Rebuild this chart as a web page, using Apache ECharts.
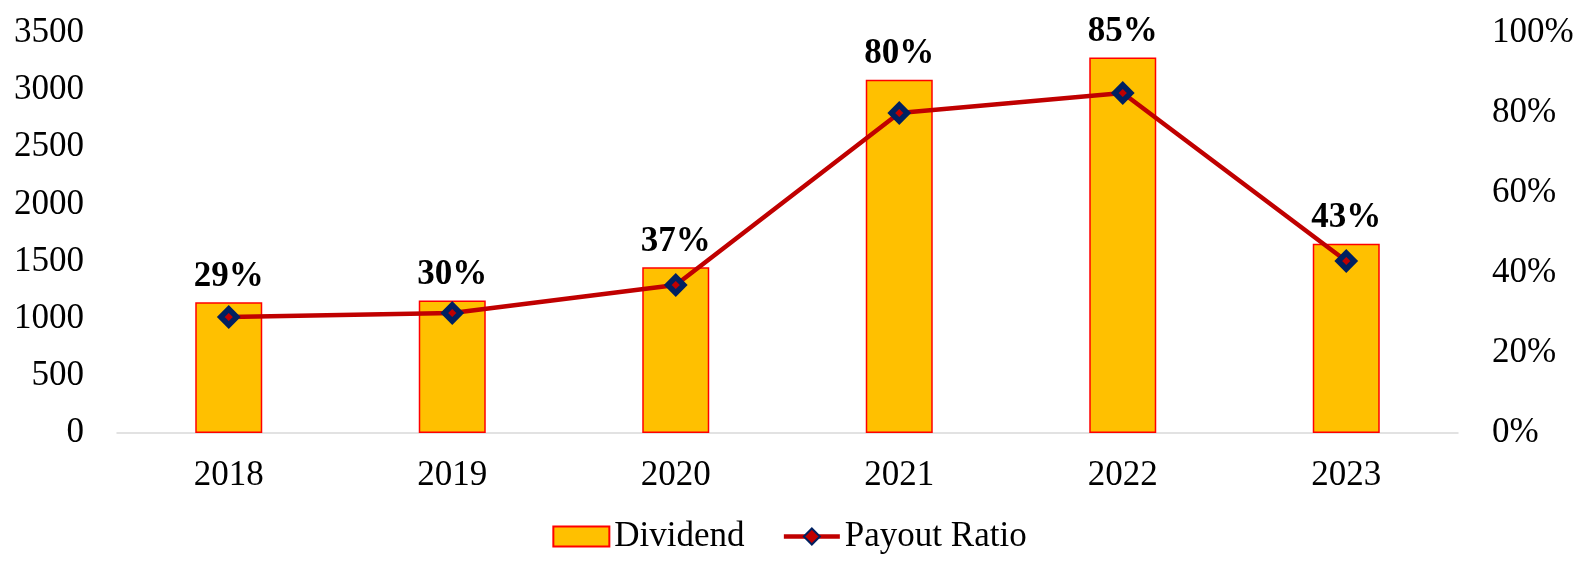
<!DOCTYPE html>
<html>
<head>
<meta charset="utf-8">
<script src="https://cdn.jsdelivr.net/npm/echarts@6/dist/echarts.min.js"></script>
<style>
  html, body { margin: 0; padding: 0; background: #fff; }
  #chart { width: 1579px; height: 561px; }
</style>
</head>
<body>
<div id="chart"></div>
<script>
// data
const years = ['2018', '2019', '2020', '2021', '2022', '2023'];
const dividend = [1145, 1160, 1450, 3090, 3285, 1655];
const payoutRatio = [29, 30, 37, 80, 85, 43];

const serif = '"Liberation Serif", "DejaVu Serif", serif';

const option = {
  animation: false,
  textStyle: { fontFamily: serif },
  grid: { left: 117, right: 121, top: 33, bottom: 128 },
  legend: {
    bottom: 2,
    left: 'center',
    itemWidth: 56,
    itemHeight: 20,
    itemGap: 37,
    textStyle: { fontFamily: serif, fontSize: 35, color: '#000' },
    data: [
      { name: 'Dividend', icon: 'rect' },
      { name: 'Payout Ratio', lineStyle: { width: 4.5 } }
    ]
  },
  xAxis: {
    type: 'category',
    data: years,
    axisLine: { lineStyle: { color: '#D9D9D9', width: 1.5 } },
    axisTick: { show: false },
    axisLabel: { fontFamily: serif, fontSize: 35, color: '#000', margin: 25 }
  },
  yAxis: [{
    type: 'value',
    min: 0,
    max: 3500,
    interval: 500,
    splitLine: { show: false },
    axisLine: { show: false },
    axisLabel: { fontFamily: serif, fontSize: 35, color: '#000', margin: 33, formatter: v => String(v) }
  }, {
    type: 'value',
    min: 0,
    max: 100,
    interval: 20,
    splitLine: { show: false },
    axisLine: { show: false },
    axisLabel: { fontFamily: serif, fontSize: 35, color: '#000', margin: 34, formatter: '{value}%' }
  }],
  series: [{
    name: 'Dividend',
    type: 'bar',
    barWidth: 67,
    data: dividend,
    itemStyle: { color: '#FFC000', borderColor: '#FF0000', borderWidth: 1.5 },
    label: {
      show: true,
      position: 'top',
      distance: 8,
      fontFamily: serif,
      fontSize: 35,
      fontWeight: 'bold',
      color: '#000',
      formatter: p => payoutRatio[p.dataIndex] + '%'
    }
  }, {
    name: 'Payout Ratio',
    type: 'line',
    yAxisIndex: 1,
    data: payoutRatio,
    symbol: 'diamond',
    symbolSize: 16,
    lineStyle: { color: '#C00000', width: 4.5 },
    itemStyle: { color: '#C00000', borderColor: '#002060', borderWidth: 5.5 },
    z: 5
  }]
};

echarts.init(document.getElementById('chart')).setOption(option);
</script>
</body>
</html>
